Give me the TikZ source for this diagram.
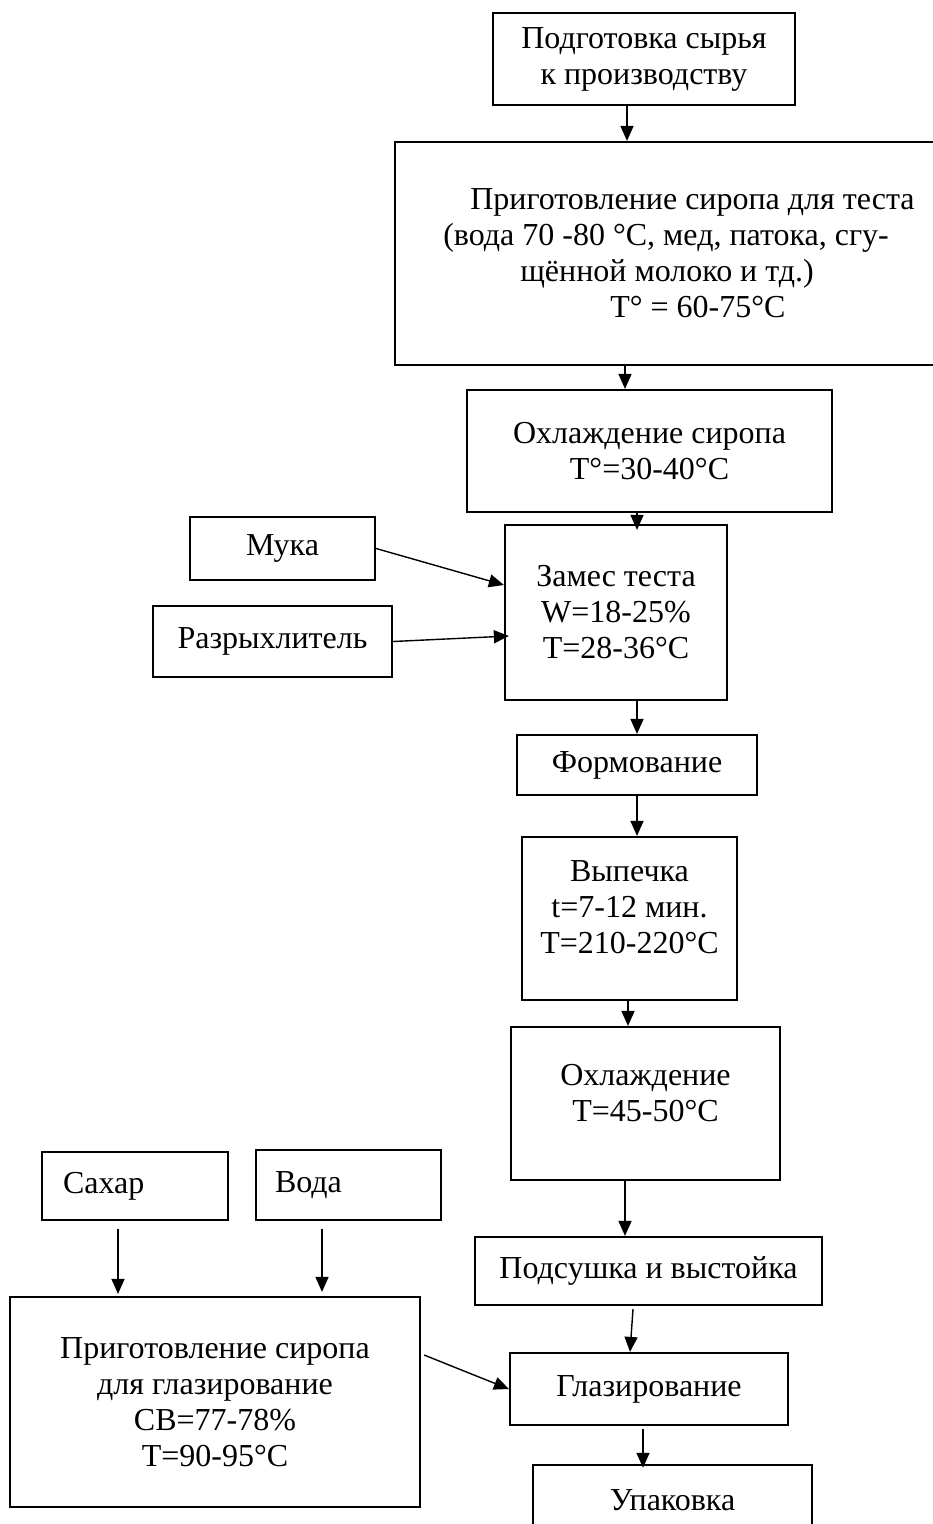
\documentclass[tikz,border=0pt]{standalone}
\usepackage{fontspec}
\setmainfont{Liberation Serif}
\usetikzlibrary{arrows.meta}
\begin{document}
\begin{tikzpicture}[x=1pt,y=-1pt,
  every node/.style={font=\fontsize{32}{36}\selectfont},
  box/.style={draw,line width=2.2pt,inner sep=0pt,align=center},
  flow/.style={line width=1.4pt,-{Triangle[length=15pt,width=13pt]}}]
\useasboundingbox (0,0) rectangle (933,1524);
\node[box,minimum width=302pt,minimum height=92pt] (b1) at (644,59) {Подготовка сырья\\к производству};
\node[box,minimum width=541pt,minimum height=223pt,align=left] (b2) at (665.5,253.5)
  {\hspace*{54pt}Приготовление сиропа для теста\\\hspace*{27pt}(вода 70 -80 °C, мед, патока, сгу-\\\hspace*{104pt}щённой молоко и тд.)\\\hspace*{194pt}T° = 60-75°C};
\node[box,minimum width=365pt,minimum height=122pt] (b3) at (649.5,451) {Охлаждение сиропа\\T°=30-40°C};
\node[box,minimum width=222pt,minimum height=175pt] (b4) at (616,612.5) {Замес теста\\W=18-25\%\\T=28-36°C};
\node[box,minimum width=185pt,minimum height=63pt] (muka) at (282.5,548.5) {Мука};
\node[box,minimum width=239pt,minimum height=71pt] (razr) at (272.5,641.5) {Разрыхлитель};
\node[box,minimum width=240pt,minimum height=60pt] (b5) at (637,765) {Формование};
\node[box,minimum width=215pt,minimum height=163pt] (b6) at (629.5,918.5) {Выпечка\\t=7-12 мин.\\T=210-220°C\rule[-22pt]{0pt}{0pt}};
\node[box,minimum width=269pt,minimum height=153pt] (b7) at (645.5,1103.5) {Охлаждение\\T=45-50°C\rule[-21pt]{0pt}{0pt}};
\node[box,text width=144pt,inner xsep=21pt,minimum height=68pt,align=left] (sugar) at (135,1186) {Сахар};
\node[box,text width=147pt,inner xsep=19pt,minimum height=70pt,align=left] (water) at (348.5,1185) {Вода};
\node[box,minimum width=410pt,minimum height=210pt] (big) at (215,1402) {Приготовление сиропа\\для глазирование\\СВ=77-78\%\\T=90-95°C};
\node[box,minimum width=347pt,minimum height=68pt] (b8) at (648.5,1271) {Подсушка и выстойка};
\node[box,minimum width=278pt,minimum height=72pt] (b9) at (649,1389) {Глазирование};
\node[inner sep=0pt,minimum width=279pt,minimum height=70pt] (b10) at (672.5,1500) {Упаковка};
\draw[line width=2.2pt] ([yshift=11pt]b10.south west) -- (b10.north west) -- (b10.north east) -- ([yshift=11pt]b10.south east);
% connectors
\draw[flow] ([xshift=-17pt]b1.south) -- ([xshift=-17pt]b1.south |- b2.north);
\draw[flow] ([xshift=-40.5pt]b2.south) -- ([xshift=-40.5pt]b2.south |- b3.north);
\draw[flow,shorten >=-6pt] ([xshift=-12.5pt]b3.south) -- ([xshift=-12.5pt]b3.south |- b4.north);
\draw[flow] (b4.south -| b5.north) -- (b5.north);
\draw[flow] ([xshift=7.5pt]b6.north |- b5.south) -- ([xshift=7.5pt]b6.north);
\draw[flow] ([xshift=-1.5pt]b6.south) -- ([xshift=-1.5pt]b6.south |- b7.north);
\draw[flow] ([xshift=-23.5pt]b8.north |- b7.south) -- ([xshift=-23.5pt]b8.north);
\draw[flow] ([xshift=-15.5pt,yshift=-3pt]b8.south) -- ([xshift=-19pt]b9.north);
\draw[flow] ([xshift=-6pt,yshift=-3pt]b9.south) -- ([xshift=-6pt,yshift=-3pt]b9.south |- b10.north);
\draw[flow] (muka.east) -- ([yshift=27.5pt]b4.west);
\draw[flow] (razr.east) -- ([yshift=-23.5pt,xshift=5pt]b4.west);
\draw[flow] ([xshift=-17pt,yshift=-8pt]sugar.south) -- ([xshift=-17pt,yshift=2pt]sugar.south |- big.north);
\draw[flow] ([xshift=-26.5pt,yshift=-8pt]water.south) -- ([xshift=-26.5pt,yshift=4pt]water.south |- big.north);
\draw[flow] ([xshift=3pt,yshift=47pt]big.east) -- (b9.west);
\end{tikzpicture}
\end{document}
